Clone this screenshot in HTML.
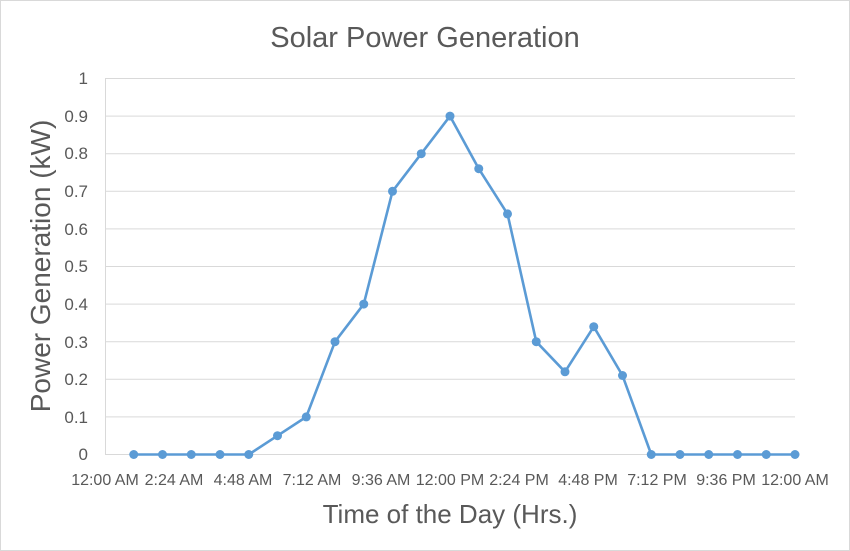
<!DOCTYPE html>
<html><head><meta charset="utf-8"><style>
html,body{margin:0;padding:0;background:#fff}
svg{display:block;font-family:"Liberation Sans",sans-serif}
</style></head><body>
<svg width="850" height="551" xmlns="http://www.w3.org/2000/svg">
<rect x="0.5" y="0.5" width="849" height="550" fill="#fff" stroke="#d9d9d9"/>
<text x="425" y="47" text-anchor="middle" font-size="29" fill="#595959">Solar Power Generation</text>
<g stroke="#d9d9d9" stroke-width="1">
<line x1="105" y1="78.5" x2="795" y2="78.5"/>
<line x1="105" y1="116.1" x2="795" y2="116.1"/>
<line x1="105" y1="153.7" x2="795" y2="153.7"/>
<line x1="105" y1="191.3" x2="795" y2="191.3"/>
<line x1="105" y1="228.9" x2="795" y2="228.9"/>
<line x1="105" y1="266.5" x2="795" y2="266.5"/>
<line x1="105" y1="304.1" x2="795" y2="304.1"/>
<line x1="105" y1="341.7" x2="795" y2="341.7"/>
<line x1="105" y1="379.3" x2="795" y2="379.3"/>
<line x1="105" y1="416.9" x2="795" y2="416.9"/>
<line x1="105" y1="454.5" x2="795" y2="454.5"/>
<line x1="105.5" y1="78" x2="105.5" y2="455"/>
</g>
<g font-size="17" fill="#595959" text-anchor="end">
<text x="88" y="84">1</text>
<text x="88" y="122">0.9</text>
<text x="88" y="159">0.8</text>
<text x="88" y="197">0.7</text>
<text x="88" y="235">0.6</text>
<text x="88" y="272">0.5</text>
<text x="88" y="310">0.4</text>
<text x="88" y="348">0.3</text>
<text x="88" y="385">0.2</text>
<text x="88" y="423">0.1</text>
<text x="88" y="460">0</text>
</g>
<g font-size="16" fill="#595959" text-anchor="middle">
<text x="105" y="485">12:00 AM</text>
<text x="174" y="485">2:24 AM</text>
<text x="243" y="485">4:48 AM</text>
<text x="312" y="485">7:12 AM</text>
<text x="381" y="485">9:36 AM</text>
<text x="450" y="485">12:00 PM</text>
<text x="519" y="485">2:24 PM</text>
<text x="588" y="485">4:48 PM</text>
<text x="657" y="485">7:12 PM</text>
<text x="726" y="485">9:36 PM</text>
<text x="795" y="485">12:00 AM</text>
</g>
<text x="450" y="523" text-anchor="middle" font-size="26" fill="#595959">Time of the Day (Hrs.)</text>
<text transform="translate(50,266) rotate(-90)" text-anchor="middle" font-size="28" fill="#595959">Power Generation (kW)</text>
<polyline fill="none" stroke="#5b9bd5" stroke-width="2.6" stroke-linejoin="round" points="133.75,454.5 162.5,454.5 191.25,454.5 220,454.5 248.75,454.5 277.5,435.7 306.25,416.9 335,341.7 363.75,304.1 392.5,191.3 421.25,153.7 450,116.1 478.75,168.7 507.5,213.9 536.25,341.7 565,371.8 593.75,326.7 622.5,375.5 651.25,454.5 680,454.5 708.75,454.5 737.5,454.5 766.25,454.5 795,454.5"/>
<g fill="#5b9bd5">
<circle cx="133.75" cy="454.5" r="4.5"/><circle cx="162.5" cy="454.5" r="4.5"/><circle cx="191.25" cy="454.5" r="4.5"/><circle cx="220" cy="454.5" r="4.5"/><circle cx="248.75" cy="454.5" r="4.5"/><circle cx="277.5" cy="435.7" r="4.5"/><circle cx="306.25" cy="416.9" r="4.5"/><circle cx="335" cy="341.7" r="4.5"/><circle cx="363.75" cy="304.1" r="4.5"/><circle cx="392.5" cy="191.3" r="4.5"/><circle cx="421.25" cy="153.7" r="4.5"/><circle cx="450" cy="116.1" r="4.5"/><circle cx="478.75" cy="168.7" r="4.5"/><circle cx="507.5" cy="213.9" r="4.5"/><circle cx="536.25" cy="341.7" r="4.5"/><circle cx="565" cy="371.8" r="4.5"/><circle cx="593.75" cy="326.7" r="4.5"/><circle cx="622.5" cy="375.5" r="4.5"/><circle cx="651.25" cy="454.5" r="4.5"/><circle cx="680" cy="454.5" r="4.5"/><circle cx="708.75" cy="454.5" r="4.5"/><circle cx="737.5" cy="454.5" r="4.5"/><circle cx="766.25" cy="454.5" r="4.5"/><circle cx="795" cy="454.5" r="4.5"/>
</g>
</svg>
</body></html>
